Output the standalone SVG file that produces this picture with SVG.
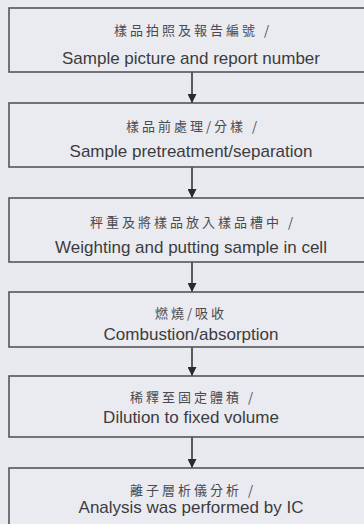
<svg xmlns="http://www.w3.org/2000/svg" width="364" height="524" viewBox="0 0 364 524">
<defs>
<style>
.bg{fill:#e9eaef}
.box{fill:#eaebf0;stroke:#555559;stroke-width:1.6}
.zh{font-family:"Noto Sans CJK TC","Noto Sans CJK SC",serif;font-size:13px;fill:#4a4a4e;text-anchor:middle;letter-spacing:3px}
.en{font-family:"Liberation Sans",Arial,sans-serif;font-size:17px;fill:#3c3c40;text-anchor:middle}
.arr{stroke:#2a2a2e;stroke-width:1.5;fill:none}
</style>
<marker id="ah" viewBox="0 0 10 10" refX="10" refY="5" markerWidth="9" markerHeight="9" markerUnits="userSpaceOnUse" orient="auto">
<path d="M0,0 L10,5 L0,10 z" fill="#2a2a2e"/>
</marker>
</defs>
<rect class="bg" x="0" y="0" width="364" height="524"/>
<g id="connectors">
<line class="arr" x1="192" y1="72" x2="192" y2="103" marker-end="url(#ah)"/>
<line class="arr" x1="192" y1="167" x2="192" y2="198" marker-end="url(#ah)"/>
<line class="arr" x1="192" y1="262" x2="192" y2="292" marker-end="url(#ah)"/>
<line class="arr" x1="192" y1="347" x2="192" y2="376" marker-end="url(#ah)"/>
<line class="arr" x1="192" y1="437" x2="192" y2="468" marker-end="url(#ah)"/>
</g>
<g id="n1">
<rect class="box" x="9" y="8" width="370" height="64"/>
<text class="zh" x="193" y="35">樣品拍照及報告編號 /</text>
<text class="en" x="191" y="64">Sample picture and report number</text>
</g>
<g id="n2">
<rect class="box" x="9" y="103" width="370" height="64"/>
<text class="zh" x="193" y="131">樣品前處理/分樣 /</text>
<text class="en" x="191" y="157">Sample pretreatment/separation</text>
</g>
<g id="n3">
<rect class="box" x="9" y="198" width="370" height="64"/>
<text class="zh" x="193" y="227">秤重及將樣品放入樣品槽中 /</text>
<text class="en" x="191" y="253">Weighting and putting sample in cell</text>
</g>
<g id="n4">
<rect class="box" x="9" y="292" width="370" height="55"/>
<text class="zh" x="191" y="318">燃燒/吸收</text>
<text class="en" x="191" y="340">Combustion/absorption</text>
</g>
<g id="n5">
<rect class="box" x="9" y="376" width="370" height="61"/>
<text class="zh" x="193" y="402">稀釋至固定體積 /</text>
<text class="en" x="191" y="423">Dilution to fixed volume</text>
</g>
<g id="n6">
<rect class="box" x="9" y="468" width="370" height="70"/>
<text class="zh" x="193" y="495">離子層析儀分析 /</text>
<text class="en" x="191" y="513">Analysis was performed by IC</text>
</g>
</svg>
